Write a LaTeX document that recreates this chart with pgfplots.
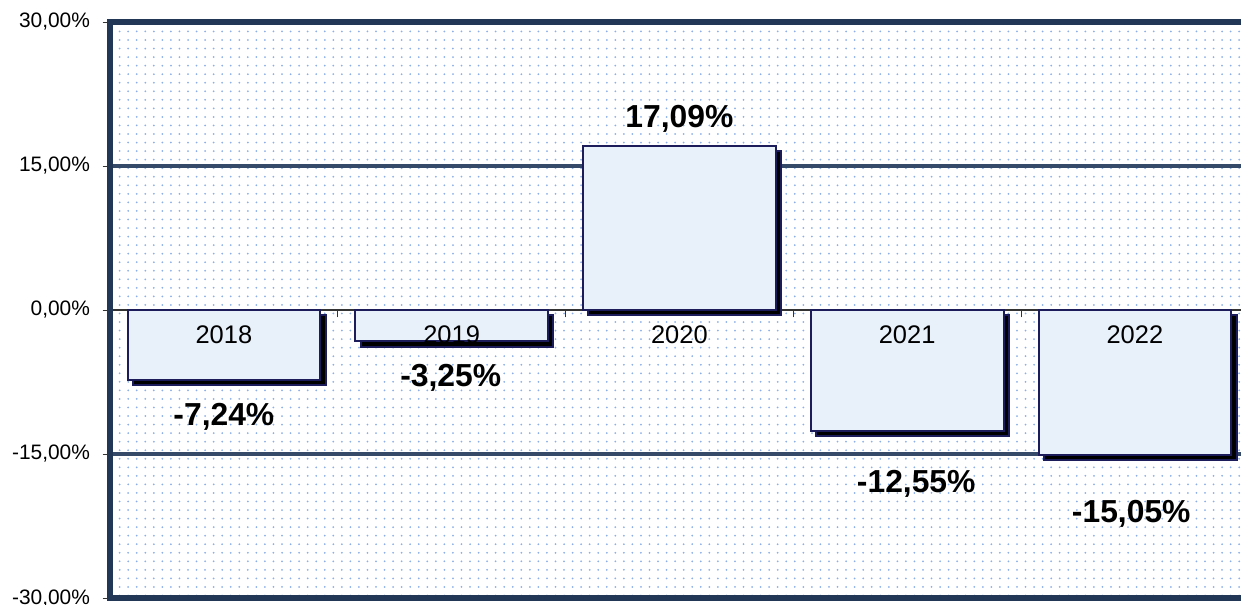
\documentclass[border=0pt]{standalone}
\usepackage{pgfplots}
\pgfplotsset{compat=1.18}
\usepackage{pgfplotstable}
\usepackage{fontspec}
\setmainfont{Liberation Sans}
\usetikzlibrary{patterns.meta,shadows}
\definecolor{frame}{RGB}{34,54,86}
\definecolor{gridc}{RGB}{52,74,104}
\definecolor{barfill}{RGB}{232,240,250}
\definecolor{barline}{RGB}{28,28,90}
\definecolor{dotc}{RGB}{140,175,230}

\pgfplotstableread{
x y off xoff label
0 -7.24 -25.3 0 -7,24\%
1 -3.25 -24.9 -0.5 -3,25\%
2 17.09 10.1 0 17,09\%
3 -12.55 -34.1 5 -12,55\%
4 -15.05 -37.4 -2 -15,05\%
}\datatable

\pgfplotstableread{
x y label
0 0 2018
1 0 2019
2 0 2020
3 0 2021
4 0 2022
}\yeartable

\begin{document}
\begin{tikzpicture}
\begin{axis}[
  name=ax,
  scale only axis,
  width=622pt, height=316.8pt,
  xmin=-0.5, xmax=4.466,
  ymin=-30, ymax=30,
  axis x line*=middle,
  axis y line*=left,
  hide obscured x ticks=false,
  hide obscured y ticks=false,
  x axis line style={draw=black!80, line width=0.6pt},
  y axis line style={draw=none},
  ytick={-30,-15,0,15,30},
  yticklabels={{-30,00\%},{-15,00\%},{0,00\%},{15,00\%},{30,00\%}},
  yticklabel style={font=\fontsize{11.5}{13}\selectfont, xshift=-3.5pt},
  extra y ticks={-15,15},
  extra y tick labels={},
  extra y tick style={grid=major, major grid style={draw=gridc, line width=1.8pt}, major tick length=0pt},
  xtick={0.5,1.5,2.5,3.5},
  xticklabels={},
  tick align=outside,
  major tick length=4pt,
  tick style={draw=black!80, line width=0.5pt},
  axis background/.style={pattern={Dots[distance=4.7pt,radius=0.55pt]}, pattern color=dotc},
  clip=false,
]
\addplot[ybar, bar width=106pt, fill=barfill, draw=barline, line width=1.1pt,
  drop shadow={shadow xshift=3pt, shadow yshift=-3pt, fill=black, opacity=1},
  nodes near coords, point meta=explicit symbolic,
  visualization depends on={\thisrow{off} \as \off},
  visualization depends on={\thisrow{xoff} \as \xoff},
  every node near coord/.append style={anchor=base, yshift=\off pt, xshift=\xoff pt, font=\bfseries\fontsize{17.5}{20}\selectfont, text=black},
] table[x=x, y=y, meta=label] {\datatable};
\addplot[draw=none, mark=none, nodes near coords, point meta=explicit symbolic,
  every node near coord/.append style={anchor=base, yshift=-18.2pt, font=\fontsize{14}{16}\selectfont, text=black},
] table[x=x, y=y, meta=label] {\yeartable};
\draw[frame, line width=2.8pt, line join=miter] (rel axis cs:1,1) -- (rel axis cs:0,1) -- (rel axis cs:0,0) -- (rel axis cs:1,0);
\end{axis}
\pgfresetboundingbox
\path[use as bounding box] ([xshift=-60.5pt,yshift=-3.3pt]ax.south west) rectangle ([yshift=12.1pt]ax.north east);
\end{tikzpicture}
\end{document}
